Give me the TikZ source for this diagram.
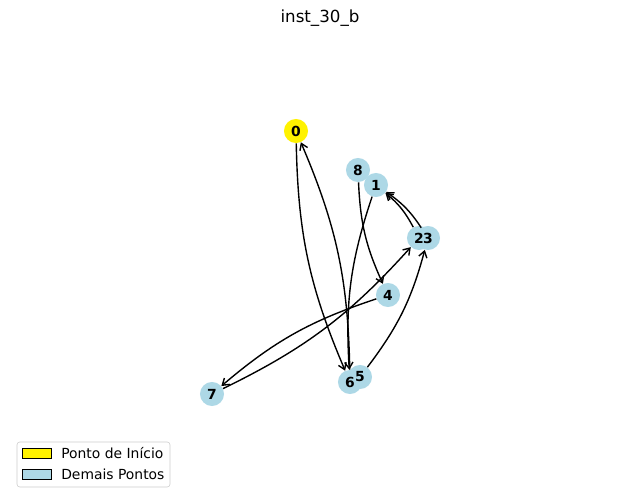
\documentclass[tikz,border=0pt]{standalone}
\usepackage{fontspec}
\setmainfont{DejaVu Sans}
\usetikzlibrary{arrows.meta}
\definecolor{ptblue}{HTML}{ADD8E6}

\begin{document}
\begin{tikzpicture}[
  x=0.72pt,
  y=-0.72pt,
  pto/.style={
    circle,
    inner sep=0pt,
    minimum size=17.3pt,
    fill=ptblue
  },
  start/.style={pto,fill=yellow},
  num/.style={font=\fontsize{10}{12}\selectfont\bfseries,inner sep=0pt},
  rota/.style={line width=1pt,-{Straight Barb[length=4.5pt,width=6pt]},bend right=11},
  patch/.style={draw,line width=.7pt,minimum width=20.2pt,minimum height=7.9pt,inner sep=0pt},
  legtxt/.style={font=\fontsize{10}{12}\selectfont,anchor=west,inner sep=0pt}
]
  \useasboundingbox (0,0) rectangle (640,504);

  \node[font=\fontsize{12}{14}\selectfont] (title) at (320,18) {inst\_30\_b};

  % Points: the start point and the others.
  \node[start] (n0) at (296,131) {};
  \foreach \n/\x/\y in {8/358/170,1/376/185,2/419/238,3/428/238,
                        4/388/295,6/350/382,5/360/377,7/212/394} {
    \node[pto] (n\n) at (\x,\y) {};
  }

  % Route, every arc bent as in the drawing.
  \draw[rota] (n0) to (n6);
  \draw[rota] (n6) to (n0);
  \draw[rota] (n1) to (n6);
  \draw[rota] (n8) to (n4);
  \draw[rota] (n4) to (n7);
  \draw[rota] (n7) to (n2);
  \draw[rota] (n5) to (n3);
  \draw[rota] (n2) to (n1);
  \draw[rota] (n3) to (n1);

  % Labels go last so that no circle hides them.
  \foreach \n/\x in {0/296,8/358,1/376,2/418,3/429,4/388,6/350,5/360,7/212} {
    \node[num] (t\n) at (n\n.center) {\n};
  }

  % Legend.
  \draw[black!20,fill=white,rounded corners=2pt] (17,442) rectangle (170,487);
  \node[patch,fill=yellow] (kstart) at (37,453.5) {};
  \node[patch,fill=ptblue] (kother) at (37,474.5) {};
  \node[legtxt] (lstart) at (61,453.5) {Ponto de Início};
  \node[legtxt] (lother) at (61,474.5) {Demais Pontos};
\end{tikzpicture}
\end{document}
